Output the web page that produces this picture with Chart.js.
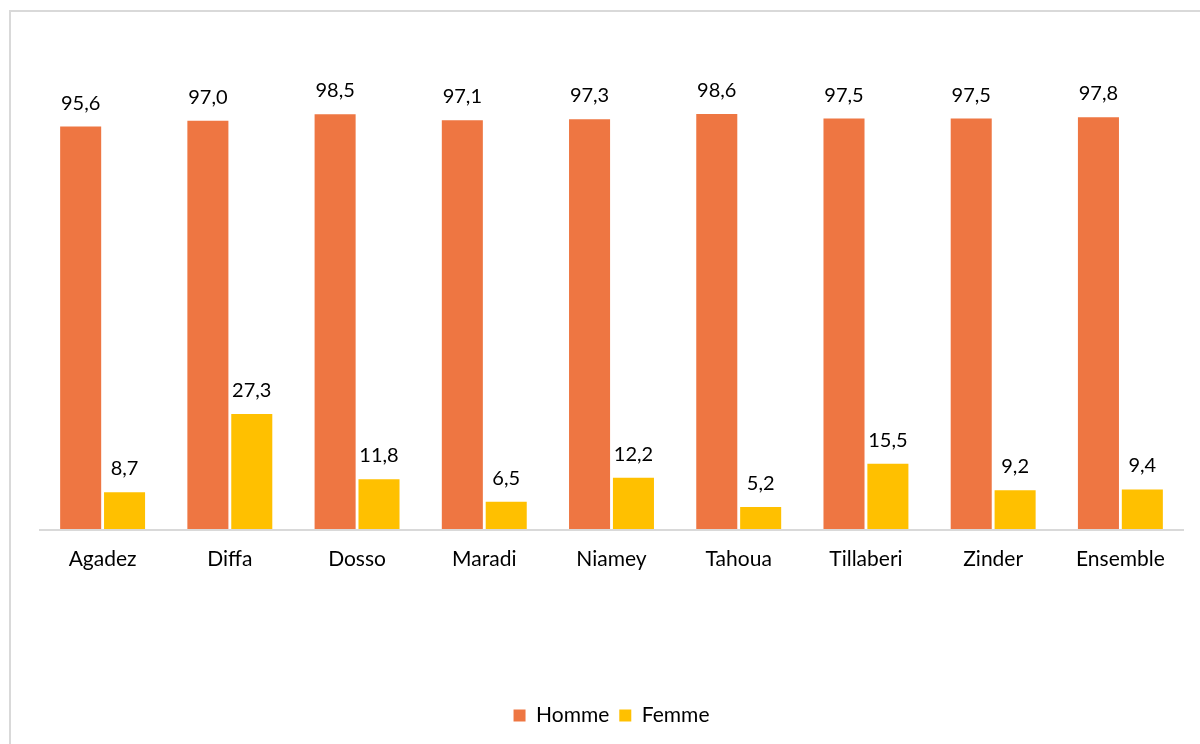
<!DOCTYPE html>
<html>
<head>
<meta charset="utf-8">
<script src="https://cdn.jsdelivr.net/npm/chart.js@4"></script>
<style>
  html, body { margin: 0; padding: 0; background: #fff; }
  #wrap { position: relative; width: 1200px; height: 744px; overflow: hidden; }
  #frame {
    position: absolute; left: 9px; top: 10px; width: 1300px; height: 900px;
    border-left: 2px solid #d9d9d9; border-top: 2px solid #d9d9d9;
    pointer-events: none;
  }
  canvas { position: absolute; left: 0; top: 0; }
</style>
</head>
<body>
<div id="wrap">
  <div id="frame"></div>
  <canvas id="chart" width="1200" height="744"></canvas>
</div>
<script>
const regions = ["Agadez", "Diffa", "Dosso", "Maradi", "Niamey", "Tahoua", "Tillaberi", "Zinder", "Ensemble"];
const homme = [95.6, 97.0, 98.5, 97.1, 97.3, 98.6, 97.5, 97.5, 97.8];
const femme = [8.7, 27.3, 11.8, 6.5, 12.2, 5.2, 15.5, 9.2, 9.4];

const FONT = "Lato, 'Open Sans', sans-serif";

/* axis line under the bars, only across the plot area */
const baseLine = {
  id: "baseLine",
  beforeDatasetsDraw(chart) {
    const { ctx, chartArea } = chart;
    ctx.save();
    ctx.strokeStyle = "#d9d9d9";
    ctx.lineWidth = 2;
    ctx.beginPath();
    ctx.moveTo(chartArea.left, chartArea.bottom + 1);
    ctx.lineTo(chartArea.right, chartArea.bottom + 1);
    ctx.stroke();
    ctx.restore();
  }
};

/* value labels above bars, french decimal comma */
const barLabels = {
  id: "barLabels",
  afterDatasetsDraw(chart) {
    const ctx = chart.ctx;
    ctx.save();
    ctx.font = "20px " + FONT;
    ctx.fillStyle = "#000";
    ctx.textAlign = "center";
    ctx.textBaseline = "alphabetic";
    chart.data.datasets.forEach((ds, i) => {
      chart.getDatasetMeta(i).data.forEach((bar, j) => {
        const txt = ds.data[j].toFixed(1).replace(".", ",");
        ctx.fillText(txt, bar.x, bar.y - 17);
      });
    });
    ctx.restore();
  }
};

new Chart(document.getElementById("chart"), {
  type: "bar",
  data: {
    labels: regions,
    datasets: [
      { label: "Homme", data: homme, backgroundColor: "#EE7642" },
      { label: "Femme", data: femme, backgroundColor: "#FFC000" }
    ]
  },
  options: {
    responsive: false,
    animation: false,
    layout: { padding: { left: 39, right: 16, top: 108, bottom: 8 } },
    datasets: { bar: { categoryPercentage: 0.69, barPercentage: 0.935 } },
    plugins: {
      legend: {
        position: "bottom",
        labels: {
          boxWidth: 12, boxHeight: 12, color: "#000",
          font: { family: FONT, size: 21 }, padding: 10
        }
      },
      tooltip: { enabled: false }
    },
    scales: {
      x: {
        grid: { display: false },
        border: { display: false },
        ticks: { color: "#000", font: { family: FONT, size: 21 }, padding: 10 },
        afterFit(scale) { scale.height = 166; }
      },
      y: { display: false, min: 0, max: 100 }
    }
  },
  plugins: [baseLine, barLabels]
});
</script>
</body>
</html>
